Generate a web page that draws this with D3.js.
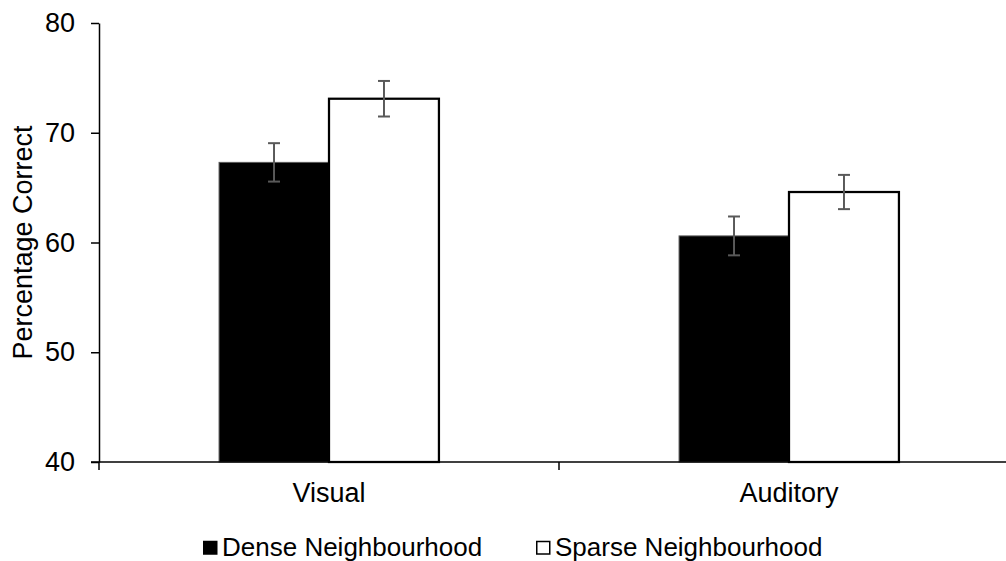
<!DOCTYPE html>
<html>
<head>
<meta charset="utf-8">
<script src="https://cdn.jsdelivr.net/npm/d3@7/dist/d3.min.js"></script>
<style>
  html, body { margin: 0; padding: 0; background: #fff; }
  svg { display: block; font-family: "Liberation Sans", Arial, sans-serif; }
</style>
</head>
<body>
<svg id="chart" width="1006" height="561"></svg>
<script>
// Modalities on the x axis
const categories = ["Visual", "Auditory"];
// Neighbourhood density conditions
const seriesNames = ["Dense Neighbourhood", "Sparse Neighbourhood"];
// Mean percentage correct per modality
const denseValues = [67.3, 60.6];
const sparseValues = [73.1, 64.6];
// Standard error of each mean
const denseErrors = [1.75, 1.77];
const sparseErrors = [1.62, 1.56];
// Y axis ticks
const yTicks = [40, 50, 60, 70, 80];

const series = [
  { name: seriesNames[0], values: denseValues, errors: denseErrors, fill: "#000000", stroke: "#595959", strokeWidth: 1 },
  { name: seriesNames[1], values: sparseValues, errors: sparseErrors, fill: "#ffffff", stroke: "#000000", strokeWidth: 2.25 }
];

const svg = d3.select("#chart");
const plot = { left: 99, right: 1019, top: 23, bottom: 462 };
const fontSize = 27;

const x0 = d3.scaleBand().domain(categories).range([plot.left, plot.right]);
const groupWidth = x0.bandwidth() * 0.478;
const x1 = d3.scaleBand().domain(seriesNames).range([0, groupWidth]);
const y = d3.scaleLinear().domain([40, 80]).range([plot.bottom, plot.top]);

// Bars
series.forEach(s => {
  svg.append("g").selectAll("rect")
    .data(categories.map((c, i) => ({ c, v: s.values[i] })))
    .join("rect")
    .attr("x", d => x0(d.c) + (x0.bandwidth() - groupWidth) / 2 + x1(s.name))
    .attr("width", x1.bandwidth())
    .attr("y", d => y(d.v))
    .attr("height", d => y(40) - y(d.v))
    .attr("fill", s.fill)
    .attr("stroke", s.stroke)
    .attr("stroke-width", s.strokeWidth);
});

// Error bars
series.forEach(s => {
  const g = svg.append("g").attr("stroke", "#595959").attr("stroke-width", 2);
  categories.forEach((c, i) => {
    const cx = x0(c) + (x0.bandwidth() - groupWidth) / 2 + x1(s.name) + x1.bandwidth() / 2;
    const hi = y(s.values[i] + s.errors[i]);
    const lo = y(s.values[i] - s.errors[i]);
    g.append("line").attr("x1", cx).attr("x2", cx).attr("y1", hi).attr("y2", lo);
    g.append("line").attr("x1", cx - 6).attr("x2", cx + 6).attr("y1", hi).attr("y2", hi);
    g.append("line").attr("x1", cx - 6).attr("x2", cx + 6).attr("y1", lo).attr("y2", lo);
  });
});

// Y axis
const yAxis = svg.append("g")
  .attr("transform", `translate(${plot.left},0)`)
  .call(d3.axisLeft(y).tickValues(yTicks).tickSize(8).tickPadding(16).tickSizeOuter(0));
yAxis.select(".domain").attr("stroke", "#000").attr("stroke-width", 1.5);
yAxis.selectAll(".tick line").attr("stroke", "#000").attr("stroke-width", 1.5);
yAxis.selectAll(".tick text").attr("font-size", fontSize).attr("fill", "#000")
  .attr("font-family", "Liberation Sans, Arial, sans-serif");

// X axis: baseline with boundary ticks between categories
svg.append("line")
  .attr("x1", plot.left - 8).attr("x2", plot.right)
  .attr("y1", y(40)).attr("y2", y(40))
  .attr("stroke", "#000").attr("stroke-width", 1.5);
const boundaries = categories.map(c => x0(c)).concat([plot.right]);
svg.append("g").selectAll("line")
  .data(boundaries)
  .join("line")
  .attr("x1", d => d).attr("x2", d => d)
  .attr("y1", y(40)).attr("y2", y(40) + 8)
  .attr("stroke", "#000").attr("stroke-width", 1.5);
svg.append("g").selectAll("text")
  .data(categories)
  .join("text")
  .attr("x", d => x0(d) + x0.bandwidth() / 2)
  .attr("y", 502)
  .attr("text-anchor", "middle")
  .attr("font-size", fontSize)
  .attr("fill", "#000")
  .text(d => d);

// Y axis title
svg.append("text")
  .attr("transform", `translate(32,${(plot.top + plot.bottom) / 2}) rotate(-90)`)
  .attr("text-anchor", "middle")
  .attr("font-size", fontSize)
  .attr("fill", "#000")
  .text("Percentage Correct");

// Legend
const legendX = [203, 536];
const legend = svg.append("g");
series.forEach((s, i) => {
  legend.append("rect")
    .attr("x", legendX[i] + 0.75).attr("y", 541.5)
    .attr("width", 13).attr("height", 12.5)
    .attr("fill", s.fill)
    .attr("stroke", "#000")
    .attr("stroke-width", 1.5);
  legend.append("text")
    .attr("x", legendX[i] + 19)
    .attr("y", 555.5)
    .attr("font-size", 26)
    .attr("fill", "#000")
    .text(s.name);
});
</script>
</body>
</html>
